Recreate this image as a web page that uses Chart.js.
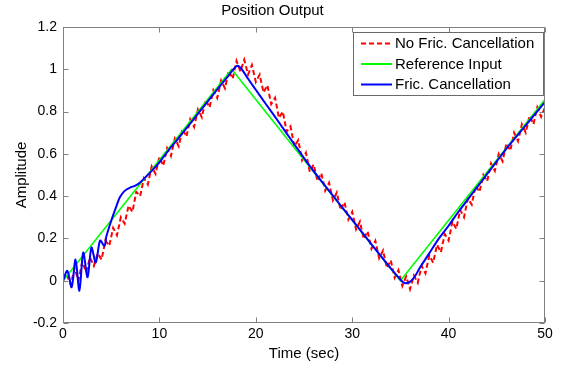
<!DOCTYPE html>
<html><head><meta charset="utf-8">
<script src="https://cdn.jsdelivr.net/npm/chart.js@4.4.1/dist/chart.umd.min.js"></script>
<style>html,body{margin:0;padding:0;background:#fff}#wrap{width:563px;height:368px}</style>
</head><body><div id="wrap"><canvas id="c" width="563" height="368"></canvas></div>
<script>
// ---- data ----
const xTicks = [0, 10, 20, 30, 40, 50];
const yTicks = [-0.2, 0, 0.2, 0.4, 0.6, 0.8, 1, 1.2];
const yTickLabels = ['-0.2', '0', '0.2', '0.4', '0.6', '0.8', '1', '1.2'];
const seriesLabels = ['No Fric. Cancellation', 'Reference Input', 'Fric. Cancellation'];

const refTime  = [0, 17.5, 35, 50];
const refValue = [0, 1, 0, 0.857];

const fricTime  = [0, 0.45, 0.9, 1.3, 1.7, 2.1, 2.55, 2.95, 3.4, 3.85, 4.3, 4.5, 5.05, 5.4, 5.9, 6.4, 6.95, 7.5, 8, 9, 10,
  11, 12, 13, 14, 15, 16, 17, 17.5, 18, 18.3, 18.7, 19.2, 20, 21, 22, 23, 24, 25, 26, 27, 28, 29, 30, 31, 32, 33, 34,
  35, 35.3, 35.6, 36, 36.5, 37, 38, 39, 40, 41, 42, 43, 44, 45, 46, 47, 48, 49, 50];
const fricValue = [0, 0.047, -0.03, 0.10, -0.047, 0.133, 0.016, 0.157, 0.086, 0.19, 0.165, 0.21, 0.29, 0.335, 0.395, 0.425, 0.44, 0.45, 0.465, 0.51, 0.56,
  0.62, 0.675, 0.732, 0.79, 0.847, 0.905, 0.96, 0.99, 1.015, 1.012, 0.99, 0.955, 0.903, 0.838, 0.775, 0.71, 0.645, 0.58, 0.518, 0.46, 0.402, 0.345, 0.288, 0.23, 0.172, 0.115, 0.058,
  0.005, -0.008, -0.012, -0.005, 0.02, 0.06, 0.13, 0.20, 0.26, 0.325, 0.385, 0.445, 0.505, 0.565, 0.625, 0.68, 0.735, 0.79, 0.845];

const noFricTime = [0, 0.4, 0.8, 1.2, 1.6, 2, 2.4, 2.8, 3.2, 3.6, 4, 4.4, 4.8, 5.2, 5.6, 6, 6.4, 6.8, 7.2, 7.6,
  8, 8.4, 8.8, 9.2, 9.6, 10, 10.4, 10.8, 11.2, 11.6, 12, 12.4, 12.8, 13.2, 13.6, 14, 14.4, 14.8, 15.2, 15.6,
  16, 16.4, 16.8, 17.2, 17.6, 18, 18.4, 18.8, 19.2, 19.6, 20, 20.4, 20.8, 21.2, 21.6, 22, 22.4, 22.8, 23.2, 23.6,
  24, 24.4, 24.8, 25.2, 25.6, 26, 26.4, 26.8, 27.2, 27.6, 28, 28.4, 28.8, 29.2, 29.6, 30, 30.4, 30.8, 31.2, 31.6,
  32, 32.4, 32.8, 33.2, 33.6, 34, 34.4, 34.8, 35.2, 35.6, 36, 36.4, 36.8, 37.2, 37.6, 38, 38.4, 38.8, 39.2, 39.6,
  40, 40.4, 40.8, 41.2, 41.6, 42, 42.4, 42.8, 43.2, 43.6, 44, 44.4, 44.8, 45.2, 45.6, 46, 46.4, 46.8, 47.2, 47.6,
  48, 48.4, 48.8, 49.2, 49.6, 50];
const noFricValue = [0.00, 0.03, -0.02, 0.06, 0.00, 0.09, 0.04, 0.11, 0.07, 0.13,
  0.10, 0.19, 0.165, 0.25, 0.215, 0.30, 0.27, 0.355, 0.325, 0.42, 0.40, 0.485, 0.455, 0.54, 0.505, 0.585,
  0.544, 0.627, 0.59, 0.673, 0.636, 0.719, 0.681, 0.764, 0.727, 0.81, 0.773, 0.856, 0.819, 0.901, 0.864, 0.947, 0.91, 0.993,
  0.955, 1.04, 0.99, 1.045, 0.975, 1.02, 0.94, 0.975, 0.89, 0.925, 0.835, 0.865, 0.77, 0.80, 0.705, 0.73, 0.635, 0.665, 0.57, 0.605, 0.515, 0.55,
  0.471, 0.509, 0.426, 0.463, 0.38, 0.417, 0.334, 0.371, 0.289, 0.326, 0.243, 0.28, 0.197, 0.234, 0.151, 0.189, 0.106, 0.143, 0.06, 0.097, 0.014, 0.05,
  -0.025, 0.02, -0.04, 0.025, -0.01, 0.07, 0.035, 0.12, 0.085, 0.17, 0.135, 0.22, 0.19, 0.28, 0.245, 0.335, 0.30, 0.39, 0.36, 0.45, 0.42, 0.50, 0.47,
  0.555, 0.52, 0.60, 0.565, 0.65, 0.615, 0.70, 0.66, 0.74, 0.70, 0.78, 0.74, 0.82, 0.775, 0.82];

const toXY = (xs, ys) => xs.map((x, i) => ({x, y: ys[i]}));
const FONT = '"Liberation Sans", Arial, sans-serif';
const AXIS_COLOR = '#808080';

// box around plot with inward tick marks (MATLAB style)
const boxTicks = {
  id: 'boxTicks',
  afterDatasetsDraw(chart) {
    const {ctx, chartArea: a, scales: {x, y}} = chart;
    ctx.save();
    ctx.strokeStyle = AXIS_COLOR;
    ctx.lineWidth = 1;
    ctx.setLineDash([]);
    const L = Math.round(a.left) + 0.5, R = Math.round(a.right) - 0.5;
    const T = Math.round(a.top) + 0.5, B = Math.round(a.bottom) - 0.5;
    ctx.strokeRect(L, T, R - L, B - T);
    const tl = 5;
    ctx.beginPath();
    xTicks.forEach(v => {
      const px = Math.round(x.getPixelForValue(v)) + 0.5;
      ctx.moveTo(px, B); ctx.lineTo(px, B - tl);
      ctx.moveTo(px, T); ctx.lineTo(px, T + tl);
    });
    yTicks.forEach(v => {
      const py = Math.round(y.getPixelForValue(v)) + 0.5;
      ctx.moveTo(L, py); ctx.lineTo(L + tl, py);
      ctx.moveTo(R, py); ctx.lineTo(R - tl, py);
    });
    ctx.stroke();
    ctx.restore();
  }
};

// legend box inside the axes, top right
const legendBox = {
  id: 'legendBox',
  afterDraw(chart) {
    const ctx = chart.ctx;
    const L = 353, T = 32, W = 190, H = 63;
    ctx.save();
    ctx.fillStyle = '#fff';
    ctx.fillRect(L, T, W, H);
    ctx.strokeStyle = '#6a6a6a';
    ctx.lineWidth = 1;
    ctx.strokeRect(L + 0.5, T + 0.5, W, H);
    const rows = [43.5, 64, 84.5];
    ctx.font = '15px ' + FONT;
    ctx.textBaseline = 'middle';
    ctx.textAlign = 'left';
    seriesLabels.forEach((lab, i) => {
      const ds = chart.data.datasets.find(d => d.label === lab);
      const yy = rows[i];
      ctx.strokeStyle = ds.borderColor;
      ctx.lineWidth = 2;
      ctx.setLineDash(ds.borderDash || []);
      ctx.beginPath();
      ctx.moveTo(361, yy); ctx.lineTo(392, yy);
      ctx.stroke();
      ctx.setLineDash([]);
      ctx.fillStyle = '#000';
      ctx.fillText(lab, 395, yy + 0.5);
    });
    ctx.restore();
  }
};

new Chart(document.getElementById('c'), {
  type: 'line',
  data: {
    datasets: [
      {label: seriesLabels[2], data: toXY(fricTime, fricValue), borderColor: '#0000ff', borderWidth: 2,
       pointRadius: 0, tension: 0.3, order: 0},
      {label: seriesLabels[1], data: toXY(refTime, refValue), borderColor: '#00ff00', borderWidth: 1.6,
       pointRadius: 0, tension: 0, order: 1},
      {label: seriesLabels[0], data: toXY(noFricTime, noFricValue), borderColor: '#ff0000', borderWidth: 2,
       borderDash: [5, 3], pointRadius: 0, tension: 0, order: 2}
    ]
  },
  options: {
    responsive: false,
    animation: false,
    devicePixelRatio: 1,
    layout: {padding: {top: 0, right: 18, bottom: 0, left: 0}},
    plugins: {
      legend: {display: false},
      tooltip: {enabled: false},
      title: {display: true, text: 'Position Output', color: '#000',
        font: {family: FONT, size: 15, weight: 'normal'}, padding: {top: 2, bottom: 7}}
    },
    scales: {
      x: {
        type: 'linear', min: 0, max: 50,
        afterBuildTicks: s => { s.ticks = xTicks.map(v => ({value: v})); },
        afterFit: s => { s.height = 45; },
        grid: {display: false, drawTicks: false},
        border: {display: false},
        ticks: {color: '#000', font: {family: FONT, size: 14}, padding: 3, maxRotation: 0,
          callback: v => String(v)},
        title: {display: true, text: 'Time (sec)', color: '#000',
          font: {family: FONT, size: 15}, padding: {top: 0, bottom: 5}}
      },
      y: {
        type: 'linear', min: -0.2, max: 1.2,
        afterBuildTicks: s => { s.ticks = yTicks.map(v => ({value: v})); },
        afterFit: s => { s.width = 63; },
        grid: {display: false, drawTicks: false},
        border: {display: false},
        ticks: {color: '#000', font: {family: FONT, size: 14}, padding: 6,
          callback: v => yTickLabels[yTicks.findIndex(t => Math.abs(t - v) < 1e-9)]},
        title: {display: true, text: 'Amplitude', color: '#000',
          font: {family: FONT, size: 15}, padding: {top: 13, bottom: 0}}
      }
    }
  },
  plugins: [boxTicks, legendBox]
});
</script>
</body></html>
